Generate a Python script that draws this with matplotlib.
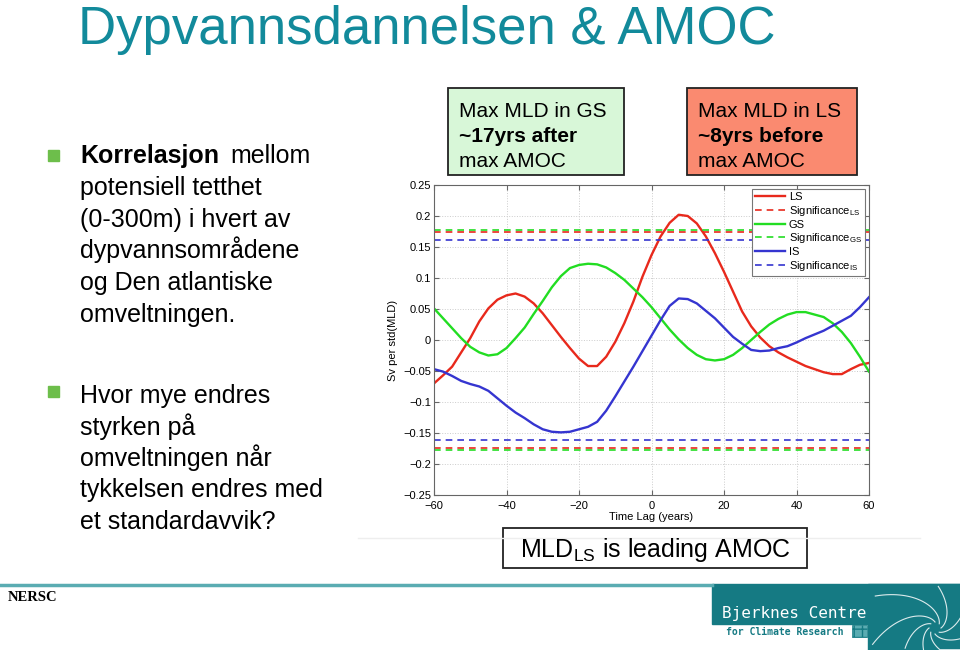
import numpy as np
import matplotlib
matplotlib.use("Agg")
import matplotlib.pyplot as plt
from matplotlib.patches import Rectangle

plt.rcParams['font.family'] = ['Liberation Sans', 'DejaVu Sans']
plt.rcParams['mathtext.default'] = 'regular'

# lag in years
lag = [-60, -57.5, -55, -52.5, -50, -47.5, -45, -42.5, -40, -37.5, -35,
       -32.5, -30, -27.5, -25, -22.5, -20, -17.5, -15, -12.5, -10, -7.5,
       -5, -2.5, 0, 2.5, 5, 7.5, 10, 12.5, 15, 17.5, 20, 22.5, 25, 27.5,
       30, 32.5, 35, 37.5, 40, 42.5, 45, 47.5, 50, 52.5, 55, 57.5, 60]

ls = [-0.070, -0.057, -0.043, -0.020, 0.003, 0.030, 0.051, 0.065, 0.072,
      0.075, 0.070, 0.059, 0.043, 0.024, 0.005, -0.013, -0.030, -0.042,
      -0.042, -0.027, -0.003, 0.027, 0.062, 0.102, 0.137, 0.167, 0.189,
      0.202, 0.200, 0.188, 0.167, 0.140, 0.110, 0.078, 0.046, 0.022, 0.004,
      -0.010, -0.020, -0.028, -0.035, -0.042, -0.047, -0.052, -0.055,
      -0.055, -0.047, -0.040, -0.037]

gs = [0.051, 0.035, 0.019, 0.003, -0.011, -0.020, -0.025, -0.023, -0.013,
      0.003, 0.020, 0.042, 0.063, 0.085, 0.103, 0.116, 0.121, 0.123, 0.122,
      0.117, 0.108, 0.097, 0.083, 0.069, 0.053, 0.035, 0.017, 0.001, -0.013,
      -0.024, -0.031, -0.033, -0.031, -0.024, -0.013, 0.000, 0.013, 0.025,
      0.034, 0.041, 0.045, 0.045, 0.041, 0.037, 0.027, 0.013, -0.005,
      -0.027, -0.051]

is_ = [-0.047, -0.051, -0.058, -0.066, -0.071, -0.075, -0.082, -0.094,
       -0.106, -0.117, -0.126, -0.136, -0.144, -0.148, -0.149, -0.148,
       -0.144, -0.140, -0.132, -0.114, -0.091, -0.067, -0.043, -0.018, 0.007,
       0.032, 0.055, 0.067, 0.066, 0.059, 0.047, 0.035, 0.020, 0.005, -0.006,
       -0.016, -0.018, -0.017, -0.013, -0.010, -0.004, 0.003, 0.009, 0.015,
       0.023, 0.031, 0.039, 0.053, 0.069]

sig_ls = 0.174
sig_gs = 0.178
sig_is = 0.161

yticks = [-0.25, -0.2, -0.15, -0.1, -0.05, 0, 0.05, 0.1, 0.15, 0.2, 0.25]
ytick_labels = ['\u22120.25', '\u22120.2', '\u22120.15', '\u22120.1',
                '\u22120.05', '0', '0.05', '0.1', '0.15', '0.2', '0.25']
xticks = [-60, -40, -20, 0, 20, 40, 60]
xtick_labels = ['\u221260', '\u221240', '\u221220', '0', '20', '40', '60']

RED = '#E8291C'
GREEN = '#22DD22'
BLUE = '#3535D0'
TEAL = '#128A9B'
W, H = 960, 650

fig = plt.figure(figsize=(9.6, 6.5), dpi=100)

# overlay in pixel coordinates (y from top) for the slide decoration
bg = fig.add_axes([0, 0, 1, 1])
bg.set_xlim(0, W)
bg.set_ylim(H, 0)
bg.axis('off')

bg.text(78, 44, 'Dypvannsdannelsen & AMOC', fontsize=38, color=TEAL,
        va='baseline')

# bullets
bg.add_patch(Rectangle((48, 150), 11, 11, color='#6DBE4B'))
bg.add_patch(Rectangle((48, 386), 11, 11, color='#6DBE4B'))
bg.text(80, 163, 'Korrelasjon', fontsize=18, fontweight='bold', va='baseline')
bg.text(230, 163, 'mellom', fontsize=18, va='baseline')
lines1 = ['potensiell tetthet', '(0-300m) i hvert av', 'dypvannsområdene',
          'og Den atlantiske', 'omveltningen.']
for i, t in enumerate(lines1):
    bg.text(80, 195 + 31.7 * i, t, fontsize=18, va='baseline')
lines2 = ['Hvor mye endres', 'styrken på', 'omveltningen når',
          'tykkelsen endres med', 'et standardavvik?']
for i, t in enumerate(lines2):
    bg.text(80, 403 + 31.5 * i, t, fontsize=18, va='baseline')

# annotation boxes
bg.add_patch(Rectangle((448, 88), 176, 87, facecolor='#D8F7D8',
                       edgecolor='#222222', lw=1.3))
bg.text(459, 117, 'Max MLD in GS', fontsize=15, va='baseline')
bg.text(459, 142, '~17yrs after', fontsize=15, fontweight='bold',
        va='baseline')
bg.text(459, 167, 'max AMOC', fontsize=15, va='baseline')

bg.add_patch(Rectangle((687, 88), 170, 87, facecolor='#FA8A70',
                       edgecolor='#222222', lw=1.3))
bg.text(698, 117, 'Max MLD in LS', fontsize=15, va='baseline')
bg.text(698, 142, '~8yrs before', fontsize=15, fontweight='bold',
        va='baseline')
bg.text(698, 167, 'max AMOC', fontsize=15, va='baseline')

bg.plot([358, 920], [538, 538], color='#EEEEEE', lw=1)
bg.add_patch(Rectangle((503, 528), 304, 40, facecolor='white',
                       edgecolor='#222222', lw=1.3))
bg.text(655, 557, 'MLD$_{LS}$ is leading AMOC', fontsize=18, ha='center',
        va='baseline')

# footer
bg.plot([0, 712], [585, 585], color='#5AACB2', lw=2.5)
bg.text(8, 601, 'NERSC', fontsize=10.5, fontweight='bold',
        family='Liberation Serif', va='baseline')
bg.add_patch(Rectangle((712, 584), 248, 40, color='#157A83'))
bg.add_patch(Rectangle((868, 584), 92, 66, color='#157A83'))
bg.text(722, 618, 'Bjerknes Centre', fontsize=11.5, color='white',
        family='DejaVu Sans Mono', va='baseline')
bg.text(726, 635, 'for Climate Research', fontsize=7, color='#157A83',
        fontweight='bold', family='DejaVu Sans Mono', va='baseline')
bg.add_patch(Rectangle((852, 625), 15, 12, facecolor='#5AACB2',
                       edgecolor='#157A83', hatch='++', lw=0.5))
cx, cy = 935, 628
th = np.linspace(0, 2.2, 60)
for k in range(8):
    a0 = k * np.pi / 4
    r = 6 * np.exp(1.3 * th)
    xs = cx + r * np.cos(a0 + th)
    ys = cy - r * np.sin(a0 + th)
    ok = (xs > 872) & (ys > 586) & (ys < 650)
    bg.plot(xs[ok], ys[ok], color='white', lw=0.8, alpha=0.85)

# chart
ax = fig.add_axes([434 / W, 1 - 495 / H, 435 / W, 310 / H])
ax.plot(lag, ls, color=RED, lw=1.7, label='LS')
ax.axhline(sig_ls, color=RED, lw=1.2, ls=(0, (4, 3)),
           label='Significance$_{LS}$')
ax.axhline(-sig_ls, color=RED, lw=1.2, ls=(0, (4, 3)))
ax.plot(lag, gs, color=GREEN, lw=1.7, label='GS')
ax.axhline(sig_gs, color=GREEN, lw=1.2, ls=(0, (4, 3)),
           label='Significance$_{GS}$')
ax.axhline(-sig_gs, color=GREEN, lw=1.2, ls=(0, (4, 3)))
ax.plot(lag, is_, color=BLUE, lw=1.7, label='IS')
ax.axhline(sig_is, color=BLUE, lw=1.2, ls=(0, (4, 3)),
           label='Significance$_{IS}$')
ax.axhline(-sig_is, color=BLUE, lw=1.2, ls=(0, (4, 3)))

ax.set_xlim(-60, 60)
ax.set_ylim(-0.25, 0.25)
ax.set_xticks(xticks, labels=xtick_labels, fontsize=8)
ax.set_yticks(yticks, labels=ytick_labels, fontsize=8)
ax.tick_params(direction='in', length=3.5, top=True, right=True,
               color='#666666', pad=2)
ax.tick_params(axis='x', pad=4)
for s in ax.spines.values():
    s.set_color('#666666')
    s.set_linewidth(0.8)
ax.grid(True, ls=':', color='#CCCCCC', lw=0.7)
ax.set_xlabel('Time Lag (years)', fontsize=8, labelpad=1)
ax.set_ylabel('Sv per std(MLD)', fontsize=8, labelpad=4)

leg = ax.legend(loc='upper right', fontsize=8, handlelength=2.7,
                labelspacing=0.15, borderpad=0.3, handletextpad=0.3,
                borderaxespad=0.35, fancybox=False, framealpha=1)
leg.get_frame().set_edgecolor('#777777')
leg.get_frame().set_linewidth(0.8)

fig.savefig('out.png', dpi=100)
